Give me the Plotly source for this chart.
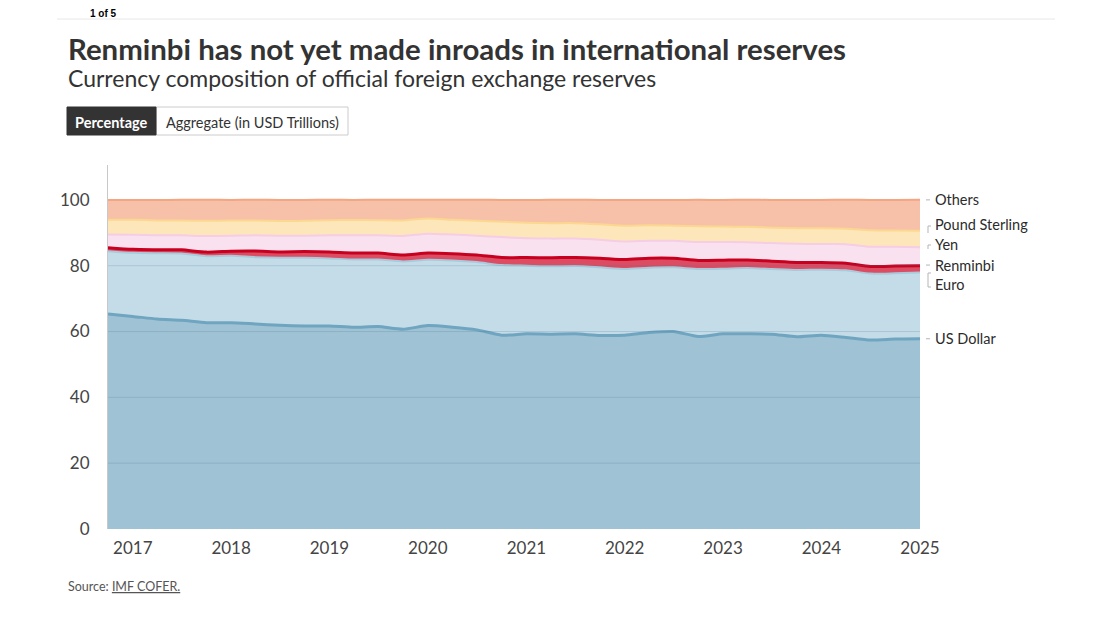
import plotly.graph_objects as go

# Quarterly dates, 2016Q4 .. 2025Q1
dates = ["2016-10-01", "2017-01-01", "2017-04-01", "2017-07-01", "2017-10-01",
         "2018-01-01", "2018-04-01", "2018-07-01", "2018-10-01",
         "2019-01-01", "2019-04-01", "2019-07-01", "2019-10-01",
         "2020-01-01", "2020-04-01", "2020-07-01", "2020-10-01",
         "2021-01-01", "2021-04-01", "2021-07-01", "2021-10-01",
         "2022-01-01", "2022-04-01", "2022-07-01", "2022-10-01",
         "2023-01-01", "2023-04-01", "2023-07-01", "2023-10-01",
         "2024-01-01", "2024-04-01", "2024-07-01", "2024-10-01",
         "2025-01-01"]

us_dollar = [65.3, 64.6, 63.8, 63.4, 62.7, 62.7, 62.3, 61.9, 61.7, 61.7, 61.3, 61.5,
             60.7, 61.8, 61.3, 60.5, 58.9, 59.3, 59.2, 59.3, 58.8, 58.9, 59.7, 60.0,
             58.5, 59.3, 59.3, 59.2, 58.4, 58.9, 58.2, 57.4, 57.7, 57.8]
euro = [19.1, 19.3, 20.0, 20.3, 20.2, 20.3, 20.3, 20.5, 20.7, 20.5, 20.6, 20.4,
        20.6, 20.0, 20.3, 20.6, 21.3, 20.7, 20.6, 20.6, 20.7, 20.1, 19.7, 19.5,
        20.5, 19.8, 20.0, 19.8, 20.3, 19.9, 20.4, 20.2, 20.0, 20.1]
renminbi = [1.08, 1.07, 1.07, 1.12, 1.23, 1.40, 1.84, 1.80, 1.89, 1.95, 1.97, 1.95,
            1.94, 2.03, 2.05, 2.13, 2.29, 2.46, 2.63, 2.63, 2.79, 2.87, 2.88, 2.76,
            2.61, 2.58, 2.45, 2.37, 2.29, 2.17, 2.14, 2.17, 2.18, 2.12]
yen = [4.0, 4.4, 4.4, 4.4, 4.9, 4.7, 4.8, 4.9, 4.8, 5.1, 5.4, 5.4,
       5.8, 5.9, 5.8, 5.9, 6.2, 5.9, 5.8, 5.7, 5.6, 5.5, 5.3, 5.3,
       5.6, 5.5, 5.4, 5.5, 5.7, 5.6, 5.8, 6.0, 5.9, 5.6]
pound_sterling = [4.5, 4.6, 4.5, 4.5, 4.6, 4.6, 4.5, 4.5, 4.6, 4.6, 4.6, 4.6,
                  4.7, 4.6, 4.5, 4.5, 4.7, 4.7, 4.7, 4.7, 4.7, 4.8, 4.7, 4.6,
                  4.8, 4.7, 4.7, 4.7, 4.7, 4.8, 4.7, 5.0, 4.9, 5.0]
others = [6.0, 6.0, 6.2, 6.3, 6.4, 6.3, 6.3, 6.4, 6.3, 6.2, 6.1, 6.2,
          6.3, 5.7, 6.1, 6.4, 6.6, 6.9, 7.1, 7.1, 7.4, 7.8, 7.7, 7.8,
          8.0, 8.1, 8.2, 8.4, 8.6, 8.6, 8.8, 9.2, 9.3, 9.4]

year_ticks = ["2017-01-01", "2018-01-01", "2019-01-01", "2020-01-01", "2021-01-01",
              "2022-01-01", "2023-01-01", "2024-01-01", "2025-01-01"]
year_labels = ["2017", "2018", "2019", "2020", "2021", "2022", "2023", "2024", "2025"]
y_ticks = [0, 20, 40, 60, 80, 100]

series = [
    ("US Dollar", us_dollar, "#9fc2d4", "#6fa5c0", 3),
    ("Euro", euro, "#c4dce8", "#a8cbdc", 2),
    ("Renminbi", renminbi, "#dc4c63", "#c8001f", 3),
    ("Yen", yen, "#f9e1ef", "#f5cde4", 2),
    ("Pound Sterling", pound_sterling, "#fee6bb", "#fcd790", 2),
    ("Others", others, "#f7c1a9", "#f4a582", 2),
]

# right-side label positions (value units)
label_y = {"Others": 100, "Pound Sterling": 92.4, "Yen": 86.3,
           "Renminbi": 80.2, "Euro": 74.2, "US Dollar": 57.8}

OFF = 8  # page body margin
W, H = 1108 - OFF, 627 - OFF
# plot area in screen pixels
SL, SR, ST, SB = 108, 920, 165, 529
L, R, T, B = SL - OFF, SR - OFF, ST - OFF, SB - OFF
YMAX = 110.6


def px(x):
    return (x - SL) / (SR - SL)


def py(y):
    return (SB - y) / (SB - ST)


fig = go.Figure()
for name, vals, fillc, linec, lw in series:
    fig.add_trace(go.Scatter(
        x=dates, y=vals, name=name, mode="lines", stackgroup="one",
        fillcolor=fillc, line=dict(color=linec, width=lw, shape="spline", smoothing=0.6),
        hoverinfo="skip",
    ))

FONT = "Lato"
annotations = []
shapes = []

# gridlines drawn above the areas
for tv in y_ticks[1:5]:
    shapes.append(dict(type="line", xref="paper", yref="y", x0=0, x1=1, y0=tv, y1=tv,
                       layer="above", line=dict(color="rgba(80,120,145,0.22)", width=1)))

# header
annotations.append(dict(text="<b>1 of 5</b>", x=px(103), y=py(14), xref="paper", yref="paper",
                        xanchor="center", yanchor="middle", showarrow=False,
                        font=dict(family="Arial", size=10, color="#000")))
shapes.append(dict(type="line", xref="paper", yref="paper", x0=px(57), x1=px(1055),
                   y0=py(19), y1=py(19), line=dict(color="#e8e8e8", width=1)))
annotations.append(dict(text="<b>Renminbi has not yet made inroads in international reserves</b>",
                        x=px(66), y=py(48), xref="paper", yref="paper", xanchor="left",
                        yanchor="middle", showarrow=False,
                        font=dict(family=FONT, size=29.4, color="#333")))
annotations.append(dict(text="Currency composition of official foreign exchange reserves",
                        x=px(66), y=py(78), xref="paper", yref="paper", xanchor="left",
                        yanchor="middle", showarrow=False,
                        font=dict(family=FONT, size=23, color="#333")))
# toggle buttons
shapes.append(dict(type="rect", xref="paper", yref="paper", x0=px(156), x1=px(348),
                   y0=py(135), y1=py(107), line=dict(color="#cccccc", width=1),
                   fillcolor="#ffffff"))
shapes.append(dict(type="rect", xref="paper", yref="paper", x0=px(67), x1=px(156),
                   y0=py(135), y1=py(107), line=dict(color="#333333", width=1),
                   fillcolor="#333333"))
annotations.append(dict(text="<b>Percentage</b>", x=px(111.5), y=py(122), xref="paper", yref="paper",
                        xanchor="center", yanchor="middle", showarrow=False,
                        font=dict(family=FONT, size=14.5, color="#fff")))
annotations.append(dict(text="Aggregate (in USD Trillions)", x=px(252), y=py(122), xref="paper",
                        yref="paper", xanchor="center", yanchor="middle", showarrow=False,
                        font=dict(family=FONT, size=14.5, color="#333")))
# source
annotations.append(dict(text="Source: <u>IMF COFER.</u>", x=px(66), y=py(586), xref="paper",
                        yref="paper", xanchor="left", yanchor="middle", showarrow=False,
                        font=dict(family=FONT, size=12.5, color="#555")))

# right labels
for name, _, _, _, _ in series:
    annotations.append(dict(text=name, x=px(933), y=label_y[name], xref="paper", yref="y",
                            xanchor="left", yanchor="middle", showarrow=False,
                            font=dict(family=FONT, size=14.5, color="#2b2b2b")))

# small leader marks
lc = dict(color="#b5b5b5", width=1)
for yv in (label_y["Others"], label_y["Renminbi"], label_y["US Dollar"]):
    shapes.append(dict(type="line", xref="paper", yref="y", x0=px(926), x1=px(930),
                       y0=yv, y1=yv, line=lc))
for top, bot in ((226, 233), (245, 249)):
    shapes.append(dict(type="path", xref="paper", yref="paper",
                       path=f"M {px(928)},{py(bot)} L {px(928)},{py(top)} L {px(931)},{py(top)}",
                       line=lc))
shapes.append(dict(type="path", xref="paper", yref="paper",
                   path=f"M {px(931)},{py(273)} L {px(928)},{py(273)} L {px(928)},{py(287)} L {px(931)},{py(287)}",
                   line=lc))

fig.update_layout(
    width=W, height=H,
    margin=dict(l=L, r=W - R, t=T, b=H - B),
    paper_bgcolor="#ffffff", plot_bgcolor="#ffffff",
    showlegend=False,
    font=dict(family=FONT, color="#444"),
    annotations=annotations, shapes=shapes,
    xaxis=dict(type="date", range=[dates[0], dates[-1]], tickvals=year_ticks,
               ticktext=year_labels, showgrid=False, zeroline=False, showline=False,
               ticks="", tickfont=dict(family=FONT, size=17, color="#444"),
               ticklabelstandoff=7, fixedrange=True),
    yaxis=dict(range=[0, YMAX], tickvals=y_ticks, showgrid=False,
               zeroline=False,
               showline=True, linecolor="#c8c8c8", linewidth=1, ticks="",
               tickfont=dict(family=FONT, size=17, color="#444"),
               ticklabelstandoff=14, layer="above traces", fixedrange=True),
)

fig.write_html("out.html")
